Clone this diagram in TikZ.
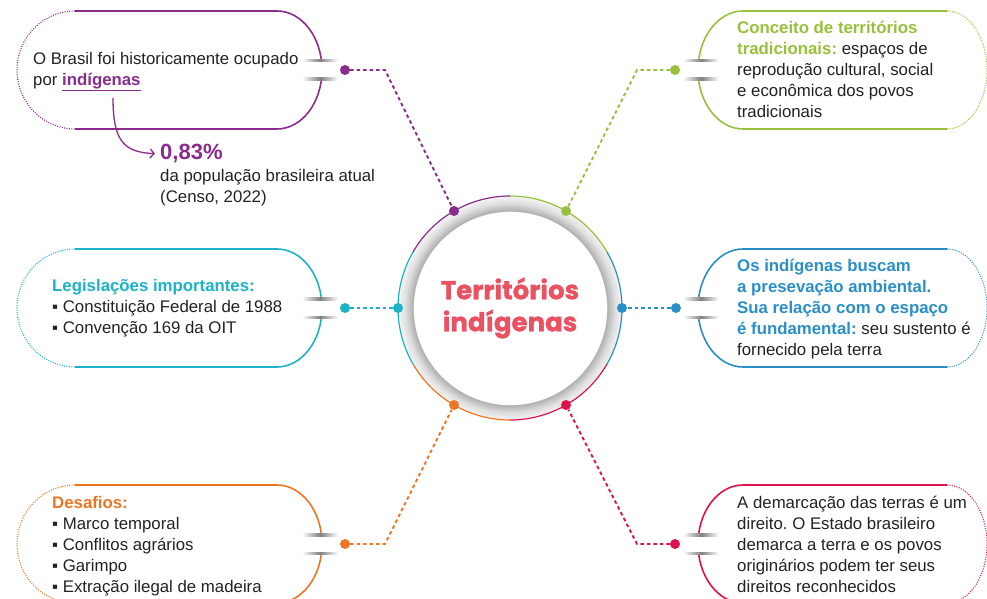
\documentclass[tikz,border=0pt]{standalone}
\usepackage{fontspec}
\setmainfont{Liberation Sans}
\newfontfamily\titlefont{Poppins}[BoldFeatures={FakeBold=1.2}]
\usetikzlibrary{arrows.meta}
\definecolor{purp}{HTML}{8A2B8D}
\definecolor{grn}{HTML}{97C13C}
\definecolor{cyn}{HTML}{1CB3C6}
\definecolor{blu}{HTML}{2A8FC8}
\definecolor{orng}{HTML}{EE7623}
\definecolor{crim}{HTML}{DF134C}
\definecolor{titlered}{HTML}{EA5161}
\definecolor{txt}{HTML}{222222}

\pgfdeclareradialshading{ringshade}{\pgfpointorigin}{color(0bp)=(white); color(21.5bp)=(white); color(21.6bp)=(black!32); color(23.4bp)=(black!13); color(25bp)=(black!4); color(50bp)=(white)}

\tikzset{
  pill/.style={line width=1.6pt},
  pilldots/.style={line width=1.1pt, dash pattern=on 1pt off 1.4pt},
  link/.style={line width=1.9pt, dash pattern=on 3.5pt off 3pt},
  ringarc/.style={line width=1.2pt},
  dot/.style={circle, inner sep=0pt, minimum size=10pt},
  body/.style={anchor=north west, align=left, inner sep=0pt, text=txt, font=\fontsize{16.8}{21}\selectfont},
}

% white gap with grey shadow edges where a link meets a pill
\newcommand{\pillnotch}[2]{%
  \fill[white] (#1,#2-9) rectangle ++(36,18);
  \shade[left color=white, right color=white, middle color=black!50] (#1,#2+8) rectangle ++(36,2.4);
  \shade[left color=white, right color=white, middle color=black!50] (#1,#2-8) rectangle ++(36,-2.4);
}
\newcommand{\pillleft}[2]{%
  \draw[pill, #1] (75,#2+59) -- (277,#2+59) arc[start angle=90, end angle=-90, x radius=45, y radius=59] -- (75,#2-59);
  \draw[pilldots, #1] (75,#2+59) arc[start angle=90, end angle=270, x radius=58, y radius=59];
  \pillnotch{302}{#2}
}
\newcommand{\pillright}[2]{%
  \draw[pill, #1] (947,#2+59) -- (743,#2+59) arc[start angle=90, end angle=270, x radius=45, y radius=59] -- (947,#2-59);
  \draw[pilldots, #1] (947,#2+59) arc[start angle=90, end angle=-90, x radius=40, y radius=59];
  \pillnotch{683}{#2}
}

\begin{document}
\frenchspacing
\begin{tikzpicture}[x=1pt, y=1pt]
\useasboundingbox (0,0) rectangle (987,598);
\clip (0,0) rectangle (987,598);

% centre
\shade[shading=ringshade] (510,290) circle (112);
\node[circle, inner sep=0pt, outer sep=0pt, minimum size=224pt, align=center, text=titlered,
  font=\titlefont\bfseries\fontsize{26}{32}\selectfont] (ctr) at (510,290) {Territórios\\indígenas};
\draw[ringarc, purp] (ctr.90) arc[start angle=90, end angle=150, radius=112];
\draw[ringarc, cyn] (ctr.150) arc[start angle=150, end angle=210, radius=112];
\draw[ringarc, orng] (ctr.210) arc[start angle=210, end angle=270, radius=112];
\draw[ringarc, crim] (ctr.270) arc[start angle=270, end angle=330, radius=112];
\draw[ringarc, blu] (ctr.330) arc[start angle=330, end angle=390, radius=112];
\draw[ringarc, grn] (ctr.30) arc[start angle=30, end angle=90, radius=112];
\node[dot, fill=purp] (cpurp) at (ctr.120) {};
\node[dot, fill=grn] (cgrn) at (ctr.60) {};
\node[dot, fill=cyn] (ccyn) at (ctr.180) {};
\node[dot, fill=blu] (cblu) at (ctr.0) {};
\node[dot, fill=orng] (corng) at (ctr.240) {};
\node[dot, fill=crim] (ccrim) at (ctr.300) {};

% pills
\pillleft{purp}{528}
\pillleft{cyn}{290}
\pillleft{orng}{54}
\pillright{grn}{528}
\pillright{blu}{290}
\pillright{crim}{54}

% links
\node[dot, fill=purp] (dpurp) at (345,528) {};
\node[dot, fill=cyn] (dcyn) at (345,290) {};
\node[dot, fill=orng] (dorng) at (345,54) {};
\node[dot, fill=grn] (dgrn) at (675,528) {};
\node[dot, fill=blu] (dblu) at (676,290) {};
\node[dot, fill=crim] (dcrim) at (675,54) {};
\draw[link, purp] (dpurp) -- ++(40,0) -- (cpurp);
\draw[link, cyn] (dcyn) -- (ccyn);
\draw[link, orng] (dorng) -- ++(40,0) -- (corng);
\draw[link, grn] (dgrn) -- ++(-38,0) -- (cgrn);
\draw[link, blu] (dblu) -- (cblu);
\draw[link, crim] (dcrim) -- ++(-38,0) -- (ccrim);

% texts
\node[body] (tpurp) at (33,546) {O Brasil foi historicamente ocupado\\por \textcolor{purp}{\bfseries\underline{indígenas}}};
\coordinate (arr) at (113,500);
\node[anchor=base west, inner sep=0pt, text=purp, font=\bfseries\fontsize{22}{26}\selectfont] (pct) at (160,438) {0,83\%};
\draw[purp, line width=1.3pt, shorten >=5pt, -{Straight Barb[length=4pt, width=9pt]}] (arr) .. controls (113,455) and (125,446) .. (pct.west);
\node[body] (census) at (160,429) {da população brasileira atual\\(Censo, 2022)};

\node[body] (tgrn) at (737,577) {\textcolor{grn}{\bfseries Conceito de territórios}\\\textcolor{grn}{\bfseries tradicionais:} espaços de\\reprodução cultural, social\\e econômica dos povos\\tradicionais};

\node[body] (tcyn) at (52,319) {\textcolor{cyn}{\bfseries Legislações importantes:}\\▪ Constituição Federal de 1988\\▪ Convenção 169 da OIT};

\node[body] (tblu) at (737,339) {\textcolor{blu}{\bfseries Os indígenas buscam}\\\textcolor{blu}{\bfseries a presevação ambiental.}\\\textcolor{blu}{\bfseries Sua relação com o espaço}\\\textcolor{blu}{\bfseries é fundamental:} seu sustento é\\fornecido pela terra};

\node[body] (torng) at (52,102) {\textcolor{orng}{\bfseries Desafios:}\\▪ Marco temporal\\▪ Conflitos agrários\\▪ Garimpo\\▪ Extração ilegal de madeira};

\node[body] (tcrim) at (737,102) {A demarcação das terras é um\\direito. O Estado brasileiro\\demarca a terra e os povos\\originários podem ter seus\\direitos reconhecidos};
\end{tikzpicture}
\end{document}
